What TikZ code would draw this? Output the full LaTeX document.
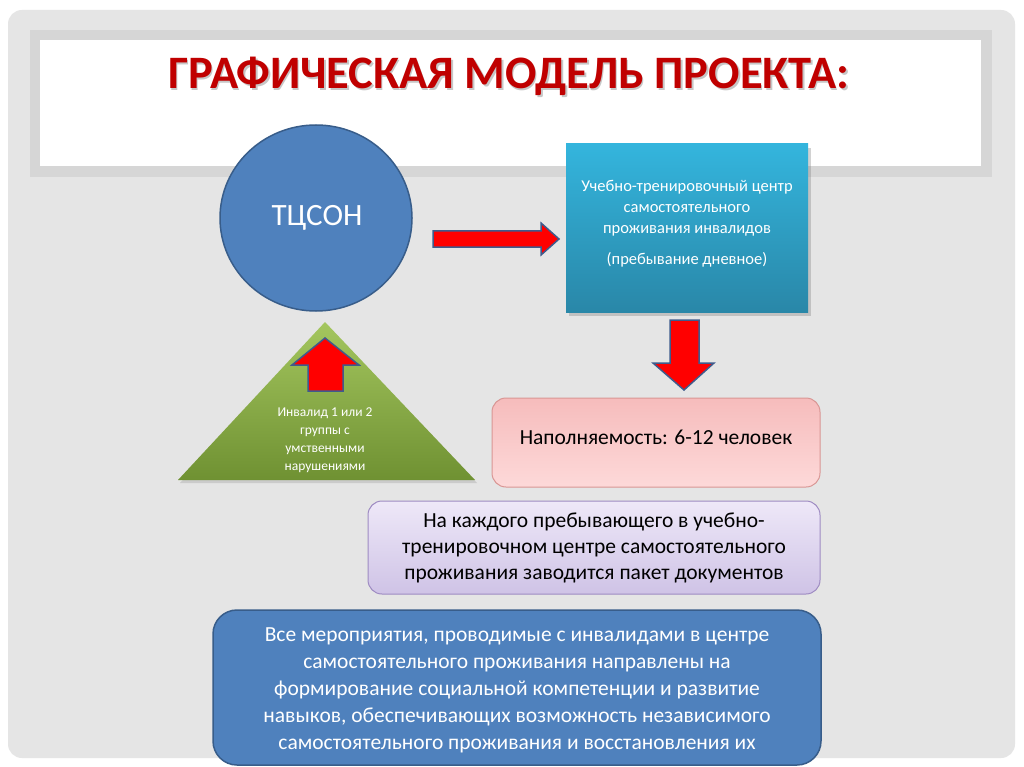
\documentclass[tikz,border=0pt]{standalone}
\usepackage{fontspec}
\setmainfont{Carlito}
\usetikzlibrary{shapes.geometric,shadows}
\definecolor{slide}{HTML}{E5E5E5}
\definecolor{band}{HTML}{D6D6D6}
\definecolor{titlered}{HTML}{C00000}
\definecolor{blue1}{HTML}{4F81BD}
\definecolor{blue2}{HTML}{385D8A}
\definecolor{arrowline}{HTML}{3F5B8C}
\definecolor{teal1}{HTML}{34B5DD}
\definecolor{teal2}{HTML}{2987A8}
\definecolor{green1}{HTML}{A4C65F}
\definecolor{green2}{HTML}{6F9132}
\definecolor{pink1}{HTML}{F6BCBC}
\definecolor{pink2}{HTML}{FDD9D9}
\definecolor{pinkline}{HTML}{D99694}
\definecolor{lila1}{HTML}{EEE8F8}
\definecolor{lila2}{HTML}{CFC3E6}
\definecolor{lilaline}{HTML}{9E8BC2}
\tikzset{
  blockarrow/.style={fill=red, draw=arrowline, line width=1.5pt, line join=miter},
  boxtext/.style={align=center, inner sep=0pt},
}
\begin{document}
\begin{tikzpicture}[x=1pt,y=-1pt]
	\useasboundingbox (0,0) rectangle (1024,767);
	\fill[white] (0,0) rectangle (1024,767);
	\fill[slide, rounded corners=14pt] (8,10) rectangle (1015,758);
	% title
	\fill[band] (30,30) rectangle (992,177);
	\fill[white] (40,40) rectangle (981,166);
	\node[boxtext, text=black!22, font=\fontsize{46.5}{50}\selectfont\bfseries] at(510.5,78.5){ГРАФИЧЕСКАЯ МОДЕЛЬ ПРОЕКТА:};
	\node[boxtext, text=titlered, name=title, font=\fontsize{46.5}{50}\selectfont\bfseries] at(509,76){ГРАФИЧЕСКАЯ МОДЕЛЬ ПРОЕКТА:};
	% ТЦСОН
	\node[name=a, ellipse, fill=blue1, draw=blue2, line width=1.5pt, minimum width=192pt, minimum height=186pt, inner sep=0pt] at(316,218){};
	\node[boxtext, text=white, font=\fontsize{31}{33}\selectfont] at(317,218){ТЦСОН};
	% centre
	\shade[top color=teal1, bottom color=teal2, drop shadow={opacity=0.35, shadow xshift=3pt, shadow yshift=-4pt}] (566,144) rectangle (808,312);
	\node[name=b, boxtext, text=white, font=\fontsize{16.5}{21}\selectfont] at(687,224){Учебно-тренировочный центр\\самостоятельного\\проживания инвалидов\\[10pt](пребывание дневное)};
	\draw[blockarrow] (433,231) -- (541,231) -- (541,223) -- (559,239) -- (541,255) -- (541,247) -- (433,247) -- cycle;
	\draw[blockarrow] (670,320) -- (699,320) -- (699,363) -- (714,363) -- (684,390) -- (653,363) -- (670,363) -- cycle;
	% triangle
	\shade[top color=green1, bottom color=green2, drop shadow={opacity=0.25, shadow xshift=2pt, shadow yshift=-3pt}] (325,322) -- (475,480) -- (178,480) -- cycle;
	\draw[blockarrow] (308,391) -- (308,365) -- (292,365) -- (325,338) -- (359,365) -- (343,365) -- (343,391) -- cycle;
	\node[name=c, boxtext, text=white, font=\fontsize{13.5}{18}\selectfont] at(325,440){Инвалид 1 или 2\\группы с\\умственными\\нарушениями};
	% boxes
	\shadedraw[top color=pink1, bottom color=pink2, draw=pinkline, line width=1pt, rounded corners=14pt] (492,398) rectangle (820,487);
	\node[name=d, boxtext, font=\fontsize{21.5}{26}\selectfont] at(656,437){Наполняемость: 6-12 человек};
	\shadedraw[top color=lila1, bottom color=lila2, draw=lilaline, line width=1pt, rounded corners=14pt] (368,501) rectangle (820,594);
	\node[name=e, boxtext, font=\fontsize{21.5}{26}\selectfont] at(594,548){На каждого пребывающего в учебно-\\тренировочном центре самостоятельного\\проживания заводится пакет документов};
	\draw[fill=blue1, draw=blue2, line width=1.5pt, rounded corners=24pt] (213,610) rectangle (821,765);
	\node[name=f, boxtext, text=white, font=\fontsize{21.5}{27}\selectfont] at(517,690){Все мероприятия, проводимые с инвалидами в центре\\самостоятельного проживания направлены на\\формирование социальной компетенции и развитие\\навыков, обеспечивающих возможность независимого\\самостоятельного проживания и восстановления их};
\end{tikzpicture}
\end{document}
